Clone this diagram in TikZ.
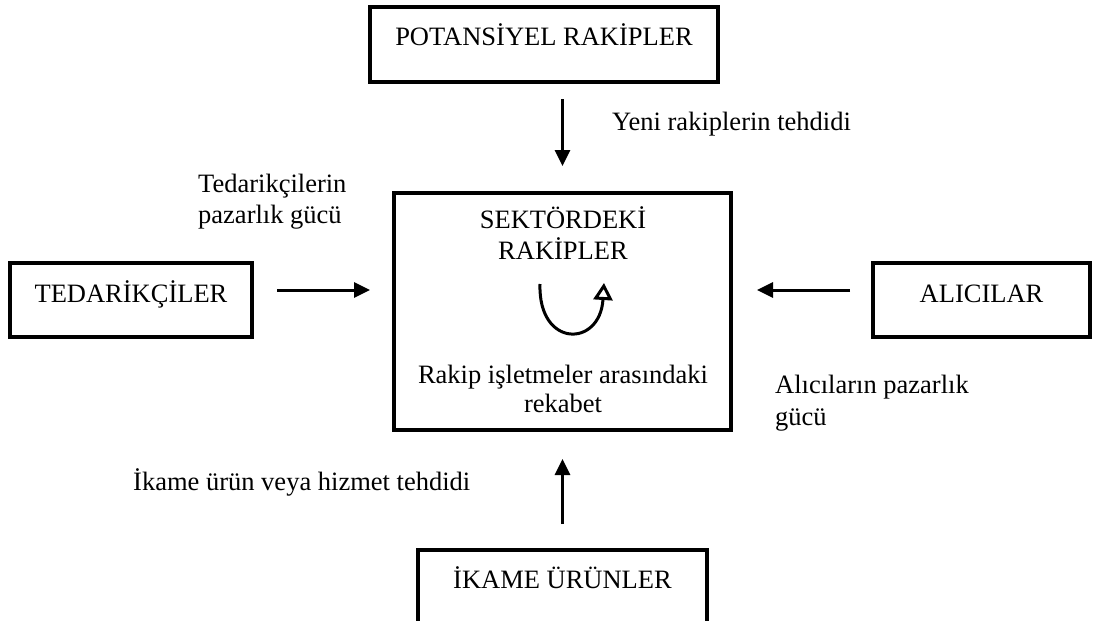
\documentclass[tikz,border=0pt]{standalone}
\usepackage{fontspec}
\setmainfont{Liberation Serif}
\usetikzlibrary{arrows.meta}
\begin{document}
\begin{tikzpicture}[x=1pt,y=-1pt,
  font=\fontsize{26.5}{31}\selectfont,
  force/.style={draw,line width=4pt,inner xsep=0pt,inner ysep=0pt},
  push/.style={line width=3pt,-{Triangle[length=16pt,width=15pt]}},
  lbl/.style={inner sep=0pt,anchor=base west,align=left}]
\useasboundingbox (0,0) rectangle (1095,621);
\clip (0,0) rectangle (1095,621);

% the five forces
\node[force,minimum width=348pt,text height=38pt,text depth=37pt,anchor=base]
  (rivals) at (544,45) {POTANS\.IYEL RAK\.IPLER};
\node[force,minimum width=242pt,text height=39pt,text depth=35pt,anchor=base]
  (supp) at (131,302) {TEDAR\.IK\c{C}\.ILER};
\node[force,minimum width=217pt,text height=39pt,text depth=35pt,anchor=base]
  (buy) at (981.5,302) {ALICILAR};
\node[force,minimum width=289pt,text height=38pt,text depth=60pt,anchor=base]
  (subst) at (562.5,588) {\.IKAME \"UR\"UNLER};
\node[force,minimum width=337pt,minimum height=237pt] (core) at (562.5,311.5) {};

% text inside the central box (base anchor = last line)
\node[inner sep=0pt,anchor=base,align=center] (coretitle) at (563,259)
  {SEKT\"ORDEK\.I\\[0pt]RAK\.IPLER};
\node[inner sep=0pt,anchor=base,align=center] (coretext) at (563,412)
  {Rakip i\c{s}letmeler aras\i ndaki\\[-2pt]rekabet};

% rivalry loop
\coordinate (loopA) at (540,284);
\coordinate (loopB) at (604,283);
\draw[line width=3pt,-{Triangle[open,length=17pt,width=19pt,line width=3pt]}]
  (loopA) .. controls (538,348) and (600,348) .. (loopB);

% arrows toward the central box
\draw[push,shorten <=15pt,shorten >=25pt] (core.north |- rivals.south) -- (core.north);
\draw[push,shorten <=23pt,shorten >=22pt] ([yshift=10pt]supp.east) -- ([yshift=10pt]supp.east -| core.west);
\draw[push,shorten <=21pt,shorten >=24pt] ([yshift=10pt]buy.west) -- ([yshift=10pt]buy.west -| core.east);
\draw[push,shorten <=24pt,shorten >=27pt] (core.south |- subst.north) -- (core.south);

% arrow labels (base anchor = last line)
\node[lbl] (newlbl) at (612,130) {Yeni rakiplerin tehdidi};
\node[lbl] (supplbl) at (198,223) {Tedarik\c{c}ilerin\\[0pt]pazarl\i k g\"uc\"u};
\node[lbl] (buylbl) at (775,425) {Al\i c\i lar\i n pazarl\i k\\[1pt]g\"uc\"u};
\node[lbl] (sublbl) at (133,490) {\.Ikame \"ur\"un veya hizmet tehdidi};
\end{tikzpicture}
\end{document}
